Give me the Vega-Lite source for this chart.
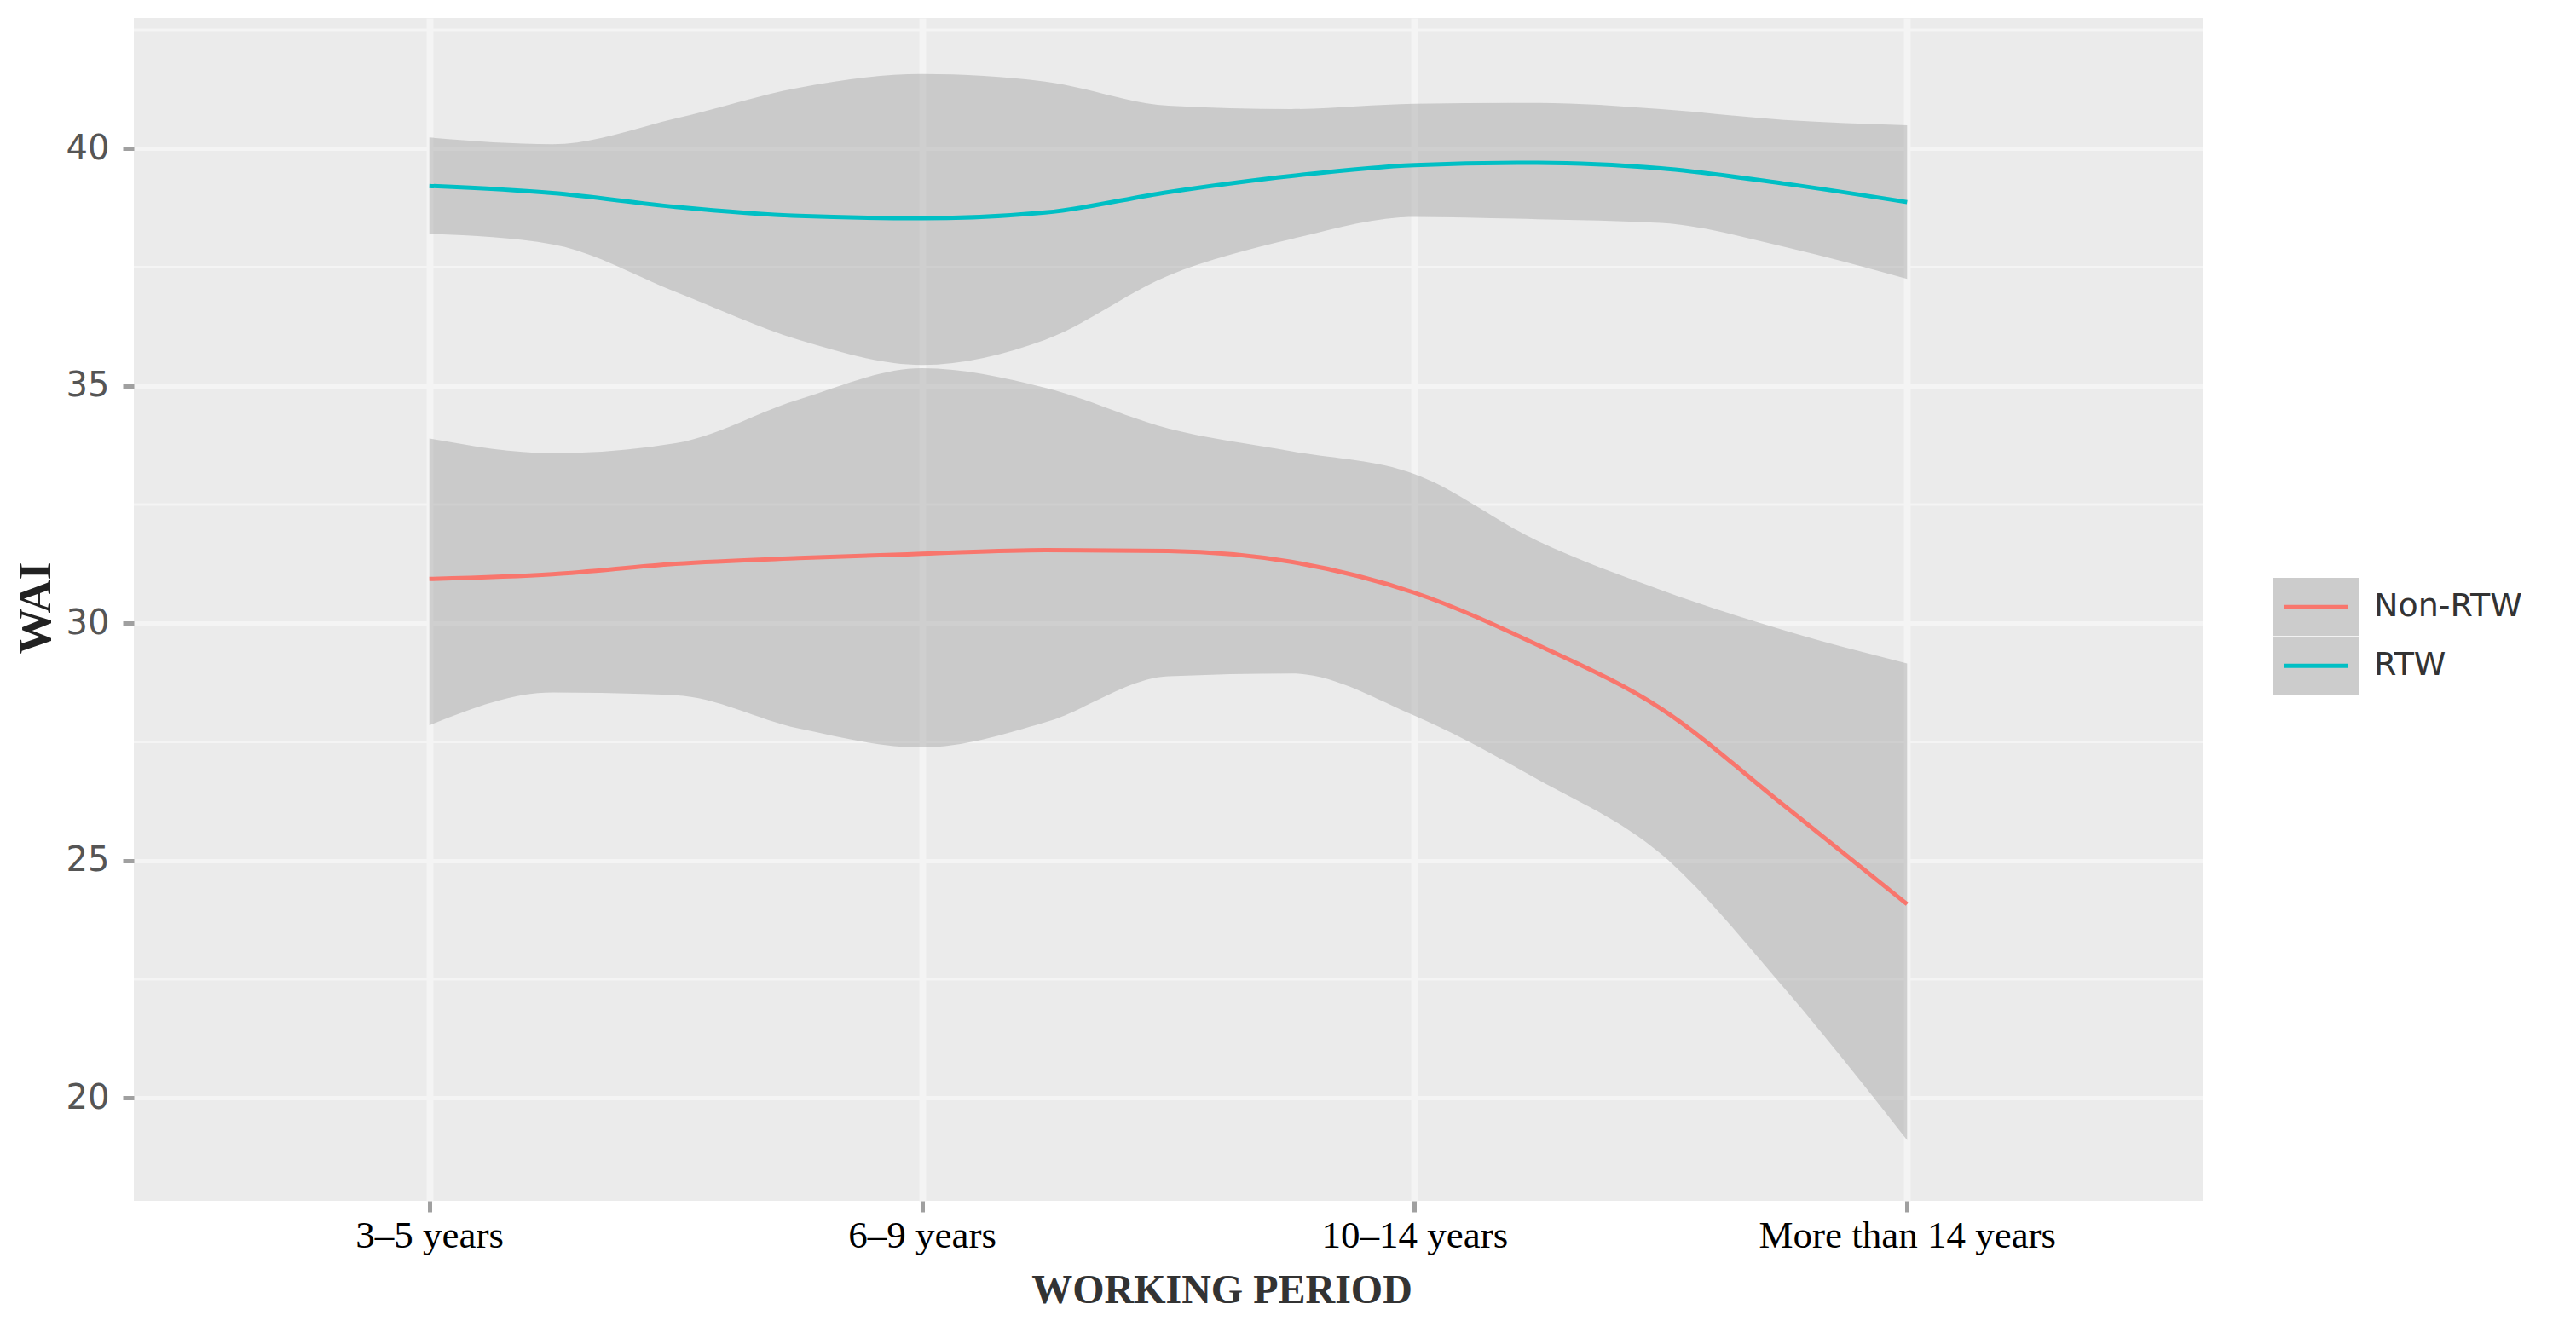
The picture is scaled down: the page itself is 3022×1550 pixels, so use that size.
{
  "$schema": "https://vega.github.io/schema/vega-lite/v6.json",
  "width": 2427,
  "height": 1388,
  "autosize": {"type": "none"},
  "padding": {"left": 157, "top": 21, "right": 438, "bottom": 141},
  "background": "white",
  "config": {"view": {"fill": "#EBEBEB", "stroke": null}},
  "data": {
    "values": [
      {"period": 1.0, "group": "RTW", "fit": 39.21, "lo": 38.20, "hi": 40.23},
      {"period": 1.25, "group": "RTW", "fit": 39.06, "lo": 37.98, "hi": 40.09},
      {"period": 1.5, "group": "RTW", "fit": 38.77, "lo": 36.98, "hi": 40.63},
      {"period": 1.75, "group": "RTW", "fit": 38.58, "lo": 35.97, "hi": 41.28},
      {"period": 2.0, "group": "RTW", "fit": 38.53, "lo": 35.44, "hi": 41.57},
      {"period": 2.25, "group": "RTW", "fit": 38.65, "lo": 35.97, "hi": 41.41},
      {"period": 2.5, "group": "RTW", "fit": 39.08, "lo": 37.32, "hi": 40.90},
      {"period": 2.75, "group": "RTW", "fit": 39.42, "lo": 38.09, "hi": 40.83},
      {"period": 3.0, "group": "RTW", "fit": 39.65, "lo": 38.56, "hi": 40.94},
      {"period": 3.25, "group": "RTW", "fit": 39.70, "lo": 38.51, "hi": 40.96},
      {"period": 3.5, "group": "RTW", "fit": 39.58, "lo": 38.43, "hi": 40.83},
      {"period": 3.75, "group": "RTW", "fit": 39.26, "lo": 37.93, "hi": 40.60},
      {"period": 4.0, "group": "RTW", "fit": 38.87, "lo": 37.25, "hi": 40.49},
      {"period": 1.0, "group": "Non-RTW", "fit": 30.93, "lo": 27.85, "hi": 33.89},
      {"period": 1.25, "group": "Non-RTW", "fit": 31.03, "lo": 28.54, "hi": 33.58},
      {"period": 1.5, "group": "Non-RTW", "fit": 31.25, "lo": 28.48, "hi": 33.79},
      {"period": 1.75, "group": "Non-RTW", "fit": 31.37, "lo": 27.78, "hi": 34.71},
      {"period": 2.0, "group": "Non-RTW", "fit": 31.46, "lo": 27.38, "hi": 35.37},
      {"period": 2.25, "group": "Non-RTW", "fit": 31.54, "lo": 27.91, "hi": 34.96},
      {"period": 2.5, "group": "Non-RTW", "fit": 31.52, "lo": 28.88, "hi": 34.10},
      {"period": 2.75, "group": "Non-RTW", "fit": 31.29, "lo": 28.94, "hi": 33.62},
      {"period": 3.0, "group": "Non-RTW", "fit": 30.64, "lo": 28.05, "hi": 33.14},
      {"period": 3.25, "group": "Non-RTW", "fit": 29.54, "lo": 26.71, "hi": 31.73},
      {"period": 3.5, "group": "Non-RTW", "fit": 28.20, "lo": 25.14, "hi": 30.70},
      {"period": 3.75, "group": "Non-RTW", "fit": 26.16, "lo": 22.32, "hi": 29.85},
      {"period": 4.0, "group": "Non-RTW", "fit": 24.08, "lo": 19.11, "hi": 29.15}
    ]
  },
  "layer": [
    {
      "data": {"values": [{"minor": 22.5}, {"minor": 27.5}, {"minor": 32.5}, {"minor": 37.5}, {"minor": 42.5}]},
      "mark": {"type": "rule", "stroke": "#F4F4F4", "strokeWidth": 3},
      "encoding": {
        "y": {"field": "minor", "type": "quantitative", "scale": {"domain": [17.83, 42.75], "nice": false, "zero": false}}
      }
    },
    {
      "transform": [{"filter": "isValid(datum.lo)"}],
      "mark": {"type": "area", "opacity": 0.4, "interpolate": "monotone"},
      "encoding": {
        "x": {
          "field": "period", "type": "quantitative",
          "scale": {"domain": [0.4, 4.6], "nice": false, "zero": false},
          "axis": {
            "values": [1, 2, 3, 4],
            "labelExpr": "datum.value == 1 ? '3–5 years' : datum.value == 2 ? '6–9 years' : datum.value == 3 ? '10–14 years' : 'More than 14 years'",
            "title": "WORKING PERIOD",
            "grid": true, "gridColor": "#F4F4F4", "gridWidth": 8,
            "domain": false,
            "ticks": true, "tickSize": 13, "tickWidth": 5, "tickColor": "#A0A0A0",
            "labelFont": "Liberation Serif", "labelFontSize": 45, "labelColor": "#000000", "labelLimit": 800,
            "labelPadding": 41, "labelBaseline": "alphabetic", "labelFlush": false, "labelOverlap": false,
            "titleFont": "Liberation Serif", "titleFontSize": 48, "titleFontWeight": "bold", "titleColor": "#333333",
            "titleX": 1276, "titleY": 119, "titleBaseline": "alphabetic"
          }
        },
        "y": {
          "field": "lo", "type": "quantitative",
          "scale": {"domain": [17.83, 42.75], "nice": false, "zero": false},
          "axis": {
            "values": [20, 25, 30, 35, 40],
            "title": "WAI",
            "grid": true, "gridColor": "#F4F4F4", "gridWidth": 5,
            "domain": false,
            "ticks": true, "tickSize": 13, "tickWidth": 5, "tickColor": "#A0A0A0",
            "labelFont": "DejaVu Sans", "labelFontSize": 40, "labelColor": "#555555", "labelPadding": 16,
            "titleFont": "Liberation Serif", "titleFontSize": 54, "titleFontWeight": "bold", "titleColor": "#222222",
            "titleX": -99, "titleY": 692, "titleBaseline": "alphabetic", "titleAngle": 270
          }
        },
        "y2": {"field": "hi"},
        "fill": {
          "field": "group", "type": "nominal",
          "scale": {"range": ["#999999", "#999999"]},
          "legend": {
            "title": null, "orient": "none", "legendX": 2507.5, "legendY": 657,
            "symbolType": "M-1,-0.685H1V0.685H-1Z", "symbolSize": 10000,
            "symbolStrokeWidth": 5, "symbolStrokeColor": "transparent", "symbolOpacity": 0.5,
            "clipHeight": 68.5, "labelOpacity": 0, "labelFontSize": 38, "labelOffset": 15.5, "labelLimit": 500,
            "rowPadding": 0, "padding": 0
          }
        }
      }
    },
    {
      "mark": {"type": "line", "strokeWidth": 5, "interpolate": "monotone"},
      "encoding": {
        "x": {"field": "period", "type": "quantitative"},
        "y": {"field": "fit", "type": "quantitative"},
        "stroke": {
          "field": "group", "type": "nominal",
          "scale": {"range": ["#F8766D", "#00BFC4"]},
          "legend": {
            "title": null, "orient": "none", "legendX": 2507.5, "legendY": 657,
            "symbolType": "M-0.76,0H0.76", "symbolSize": 10000, "symbolStrokeWidth": 5,
            "clipHeight": 68.5, "labelFont": "DejaVu Sans", "labelFontSize": 38, "labelColor": "#333333",
            "labelOffset": 15.5, "labelLimit": 500, "rowPadding": 0, "padding": 0
          }
        }
      }
    }
  ]
}
